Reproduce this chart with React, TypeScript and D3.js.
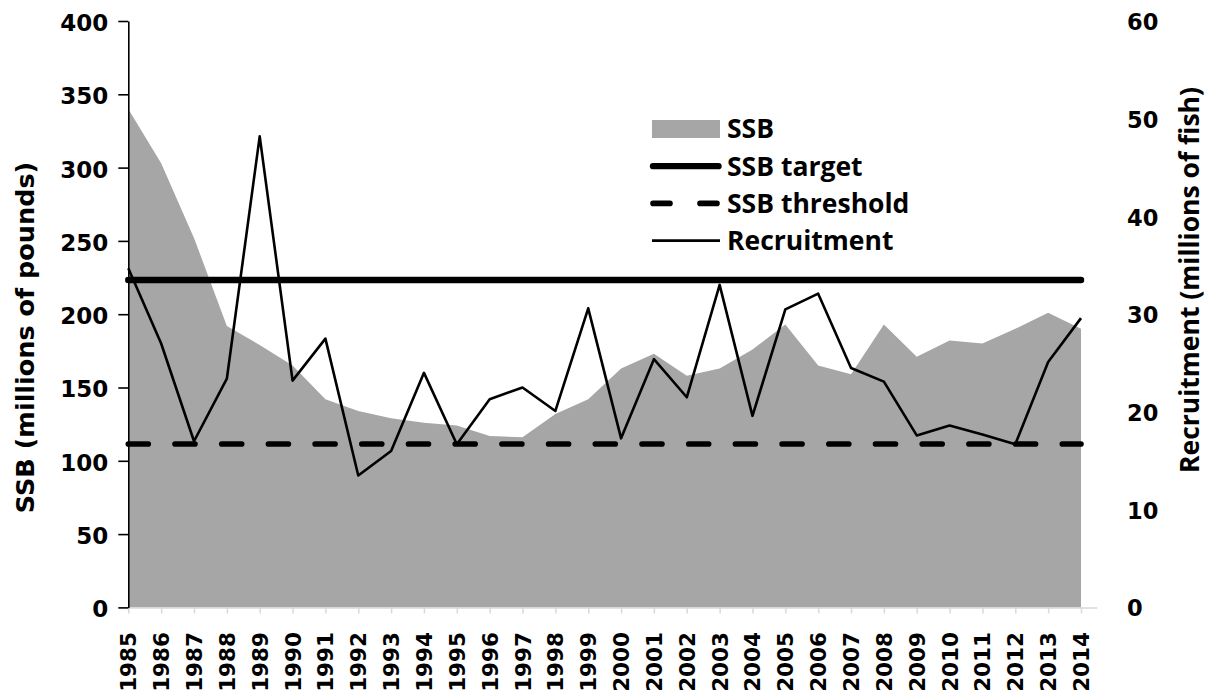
import React, { useRef, useEffect } from "react";
import * as d3 from "d3";

const years = [
  1985, 1986, 1987, 1988, 1989, 1990, 1991, 1992, 1993, 1994,
  1995, 1996, 1997, 1998, 1999, 2000, 2001, 2002, 2003, 2004,
  2005, 2006, 2007, 2008, 2009, 2010, 2011, 2012, 2013, 2014,
];

// SSB, millions of pounds (left axis)
const ssb = [
  340, 303, 252, 192, 179, 165, 142, 134, 129, 126,
  124, 117, 116, 132, 142, 163, 173, 158, 163, 176,
  193, 165, 159, 193, 171, 182, 180, 190, 201, 190,
];

// Recruitment, millions of fish (right axis)
const recruitment = [
  34.7, 27.0, 17.0, 23.4, 48.2, 23.2, 27.5, 13.5, 16.0, 24.0,
  16.7, 21.3, 22.5, 20.1, 30.6, 17.3, 25.4, 21.5, 33.0, 19.6,
  30.5, 32.1, 24.5, 23.1, 17.6, 18.6, 17.7, 16.7, 25.1, 29.6,
];

const ssbTarget = 223.3;
const ssbThreshold = 111.5;

const leftTicks = [0, 50, 100, 150, 200, 250, 300, 350, 400];
const rightTicks = [0, 10, 20, 30, 40, 50, 60];
const legendLabels = ["SSB", "SSB target", "SSB threshold", "Recruitment"];

const GRAY = "#a6a6a6";
const W = 1211;
const H = 698;

const Chart = () => {
  const ref = useRef<SVGSVGElement>(null);

  useEffect(() => {
    const svg = d3.select(ref.current);
    svg.selectAll("*").remove();

    const left = 128.3, right = 1081, top = 21, bottom = 607.4;

    const x = d3.scaleLinear().domain([years[0], years[years.length - 1]]).range([left, right]);
    const yL = d3.scaleLinear().domain([0, 400]).range([bottom, top]);
    const yR = d3.scaleLinear().domain([0, 60]).range([bottom, top]);

    const rows = years.map((yr, i) => ({ yr, ssb: ssb[i], rec: recruitment[i] }));

    // SSB area
    const area = d3.area<any>()
      .x(d => x(d.yr))
      .y0(yL(0))
      .y1(d => yL(d.ssb));
    svg.append("path").datum(rows).attr("d", area).attr("fill", GRAY);

    // x axis (light gray line + ticks)
    const xa = svg.append("g")
      .attr("transform", `translate(0,${bottom})`)
      .call(d3.axisBottom(x).tickValues(years).tickSize(6).tickSizeOuter(0).tickFormat(() => ""));
    xa.select(".domain").remove();
    xa.selectAll(".tick line").attr("stroke", "#d9d9d9").attr("stroke-width", 1.5);
    svg.append("line")
      .attr("x1", x(years[0]) - 1).attr("x2", x(years[years.length - 1] + 0.5))
      .attr("y1", bottom + 0.5).attr("y2", bottom + 0.5)
      .attr("stroke", "#d9d9d9").attr("stroke-width", 1.5);

    // year labels
    svg.append("g").selectAll("text").data(years).join("text")
      .attr("transform", d => `translate(${x(d) + 8},632) rotate(-90)`)
      .attr("text-anchor", "end")
      .attr("font-family", "'DejaVu Sans', sans-serif")
      .attr("font-weight", "bold")
      .attr("font-size", 21.5)
      .attr("fill", "#000")
      .text(d => String(d));

    // left axis
    const la = svg.append("g")
      .attr("transform", `translate(${left},0)`)
      .call(d3.axisLeft(yL).tickValues(leftTicks).tickSize(10).tickSizeOuter(0).tickPadding(10));
    la.select(".domain").attr("stroke", "#000").attr("stroke-width", 1.6);
    la.selectAll(".tick line").attr("stroke", "#000").attr("stroke-width", 1.6);
    la.selectAll(".tick text")
      .attr("font-family", "'DejaVu Sans', sans-serif")
      .attr("font-weight", "bold")
      .attr("font-size", 23)
      .attr("fill", "#000")
      .attr("dy", "0.41em");

    // right axis (labels only)
    const ra = svg.append("g")
      .attr("transform", `translate(1098,0)`)
      .call(d3.axisRight(yR).tickValues(rightTicks).tickSize(0).tickPadding(29));
    ra.select(".domain").remove();
    ra.selectAll(".tick text")
      .attr("font-family", "'DejaVu Sans', sans-serif")
      .attr("font-weight", "bold")
      .attr("font-size", 22.5)
      .attr("fill", "#000")
      .attr("dy", "0.38em");

    // reference lines
    const flat = (v: number) => d3.line<number>().x(d => x(d)).y(() => yL(v));
    const ends = [years[0], years[years.length - 1]];
    svg.append("path").attr("d", flat(ssbTarget)(ends))
      .attr("stroke", "#000").attr("stroke-width", 6.5).attr("stroke-linecap", "round").attr("fill", "none");
    svg.append("path").attr("d", flat(ssbThreshold)(ends))
      .attr("stroke", "#000").attr("stroke-width", 5.6).attr("stroke-linecap", "round")
      .attr("stroke-dasharray", "20,26.7").attr("fill", "none");

    // recruitment line
    const recLine = d3.line<any>().x(d => x(d.yr)).y(d => yR(d.rec));
    svg.append("path").datum(rows).attr("d", recLine)
      .attr("fill", "none").attr("stroke", "#000").attr("stroke-width", 2.6)
      .attr("stroke-linejoin", "round");

    // axis titles
    svg.append("text")
      .attr("transform", "translate(33.5,337.5) rotate(-90)")
      .attr("text-anchor", "middle")
      .attr("font-family", "'DejaVu Sans', sans-serif")
      .attr("font-weight", "bold")
      .attr("font-size", 25.5)
      .text("SSB (millions of pounds)");
    svg.append("text")
      .attr("transform", "translate(1199,280) rotate(-90)")
      .attr("text-anchor", "middle")
      .attr("font-family", "'Open Sans', sans-serif")
      .attr("font-weight", "bold")
      .attr("font-size", 26.5)
      .text("Recruitment (millions of fish)");

    // legend
    const lg = svg.append("g");
    legendLabels.forEach((label, i) => {
      const cy = 129 + i * 37.2;
      if (i === 0) {
        lg.append("rect").attr("x", 652).attr("y", cy - 9).attr("width", 68).attr("height", 18).attr("fill", GRAY);
      } else if (i === 1) {
        lg.append("line").attr("x1", 653).attr("x2", 718.5).attr("y1", cy).attr("y2", cy)
          .attr("stroke", "#000").attr("stroke-width", 6.3).attr("stroke-linecap", "round");
      } else if (i === 2) {
        lg.append("line").attr("x1", 653).attr("x2", 718.5).attr("y1", cy).attr("y2", cy)
          .attr("stroke", "#000").attr("stroke-width", 5.6).attr("stroke-linecap", "round")
          .attr("stroke-dasharray", "17,30");
      } else {
        lg.append("line").attr("x1", 652).attr("x2", 720).attr("y1", cy).attr("y2", cy)
          .attr("stroke", "#000").attr("stroke-width", 2.6);
      }
      lg.append("text")
        .attr("x", 727).attr("y", cy + 9.3)
        .attr("font-family", "'Open Sans', sans-serif")
        .attr("font-weight", "bold")
        .attr("font-size", 26.5)
        .attr("fill", "#000")
        .text(label);
    });
  }, []);

  return (
    <svg
      ref={ref}
      width={W}
      height={H}
      style={{ position: "absolute", left: 0, top: 0, background: "#fff" }}
    />
  );
};

export default function App() {
  return <Chart />;
}
